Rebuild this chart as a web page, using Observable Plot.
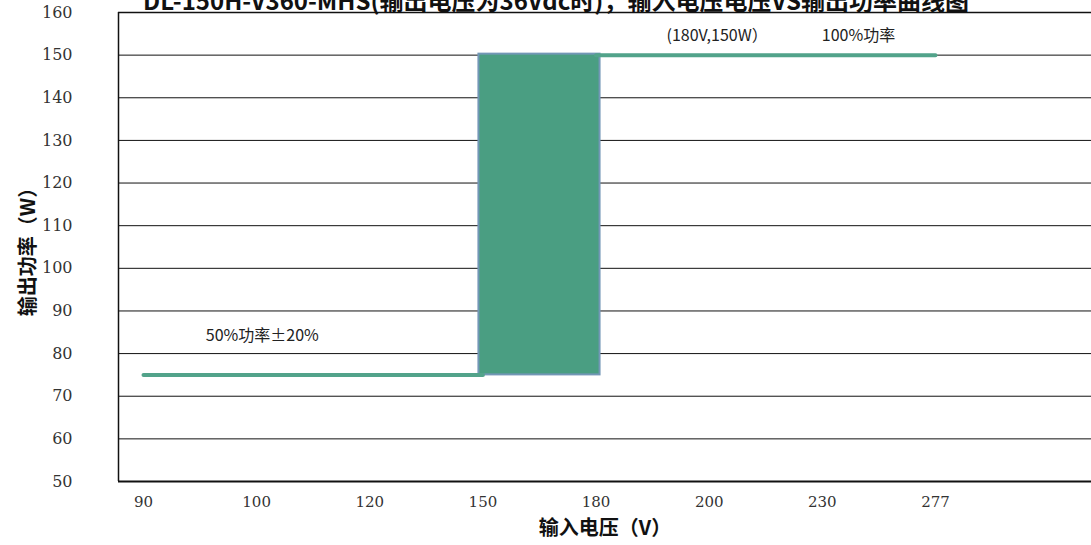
<!DOCTYPE html>
<html>
<head>
<meta charset="utf-8">
<script src="https://cdn.jsdelivr.net/npm/d3@7"></script>
<script src="https://cdn.jsdelivr.net/npm/@observablehq/plot@0.6"></script>
<style>
  html, body { margin: 0; padding: 0; background: #fff; overflow: hidden; }
  #wrap { position: relative; width: 1091px; height: 545px; }
  #title { position: absolute; left: 0; width: 1112px; top: -12px; text-align: center;
    font-family: "Noto Sans CJK SC", sans-serif; font-weight: bold; font-size: 24px; line-height: 24px; color: #111; white-space: nowrap; }
</style>
</head>
<body>
<div id="wrap">
  <div id="chart"></div>
  <div id="title">DL-150H-V360-MHS(输出电压为36Vdc时)，输入电压电压VS输出功率曲线图</div>
</div>
<script>
// ---- data ----
const categories = ["90", "100", "120", "150", "180", "200", "230", "277"];
const yTicks = [50, 60, 70, 80, 90, 100, 110, 120, 130, 140, 150, 160];
const lowVoltages = ["90", "150"];
const lowPower = [75, 75];
const highVoltages = ["180", "277"];
const highPower = [150, 150];
const bandFrom = "150";
const bandTo = "180";
const bandLow = 75;
const bandHigh = 150;
const annotationTexts = ["50%功率±20%", "(180V,150W）", "100%功率"];
const annotationX = [1.05, 5.07, 6.32];   // position along category axis
const annotationY = [84.2, 154.6, 154.6]; // power value
const xLabel = "输入电压（V）";
const yLabel = "输出功率（W）";

const idx = v => categories.indexOf(v);
const lowData = lowVoltages.map((v, i) => ({x: idx(v), y: lowPower[i]}));
const highData = highVoltages.map((v, i) => ({x: idx(v), y: highPower[i]}));
const band = [{x1: idx(bandFrom), x2: idx(bandTo), y1: bandLow, y2: bandHigh}];
const annotations = annotationTexts.map((t, i) => ({t, x: annotationX[i], y: annotationY[i]}));

const xDomain = [-0.221, 8.379];
const tickFont = "DejaVu Serif, Liberation Serif, serif";
const cjk = "Noto Sans CJK SC, sans-serif";

const chart = Plot.plot({
  width: 1091,
  height: 545,
  marginLeft: 118,
  marginRight: 0,
  marginTop: 12,
  marginBottom: 64,
  style: {background: "transparent", color: "#000"},
  x: {type: "linear", domain: xDomain, axis: null},
  y: {domain: [50, 160], axis: null},
  marks: [
    Plot.ruleY(yTicks.filter(t => t > 50 && t < 160), {stroke: "#111", strokeWidth: 1}),
    Plot.ruleY([160], {stroke: "#111", strokeWidth: 1.5}),
    Plot.ruleY([50], {stroke: "#111", strokeWidth: 2}),
    Plot.ruleX([xDomain[0]], {stroke: "#111", strokeWidth: 1.5}),
    Plot.rect(band, {x1: "x1", x2: "x2", y1: "y1", y2: "y2", fill: "#4a9e82", stroke: "#7397b6", strokeWidth: 2, insetLeft: -4, insetRight: -4, insetTop: -1}),
    Plot.line(lowData, {x: "x", y: "y", stroke: "#52a38a", strokeWidth: 4}),
    Plot.line(highData, {x: "x", y: "y", stroke: "#52a38a", strokeWidth: 4}),
    Plot.axisY({ticks: yTicks, tickSize: 0, tickPadding: 46, label: null, fontSize: 16, fontFamily: tickFont, fill: "#333"}),
    Plot.axisX({ticks: d3.range(categories.length), tickFormat: i => categories[i], tickSize: 0, tickPadding: 15, label: null, fontSize: 15, fontFamily: tickFont, fill: "#333"}),
    Plot.text(annotations, {x: "x", y: "y", text: "t", fontSize: 16, fontFamily: cjk, fill: "#222"}),
    Plot.text([yLabel], {frameAnchor: "left", textAnchor: "middle", dx: -90, rotate: -90, fontSize: 20, fontWeight: "bold", fontFamily: cjk, fill: "#111"}),
    Plot.text([xLabel], {frameAnchor: "bottom", textAnchor: "middle", dy: 53, fontSize: 20, fontWeight: "bold", fontFamily: cjk, fill: "#111"})
  ]
});
document.getElementById("chart").appendChild(chart);
</script>
</body>
</html>
